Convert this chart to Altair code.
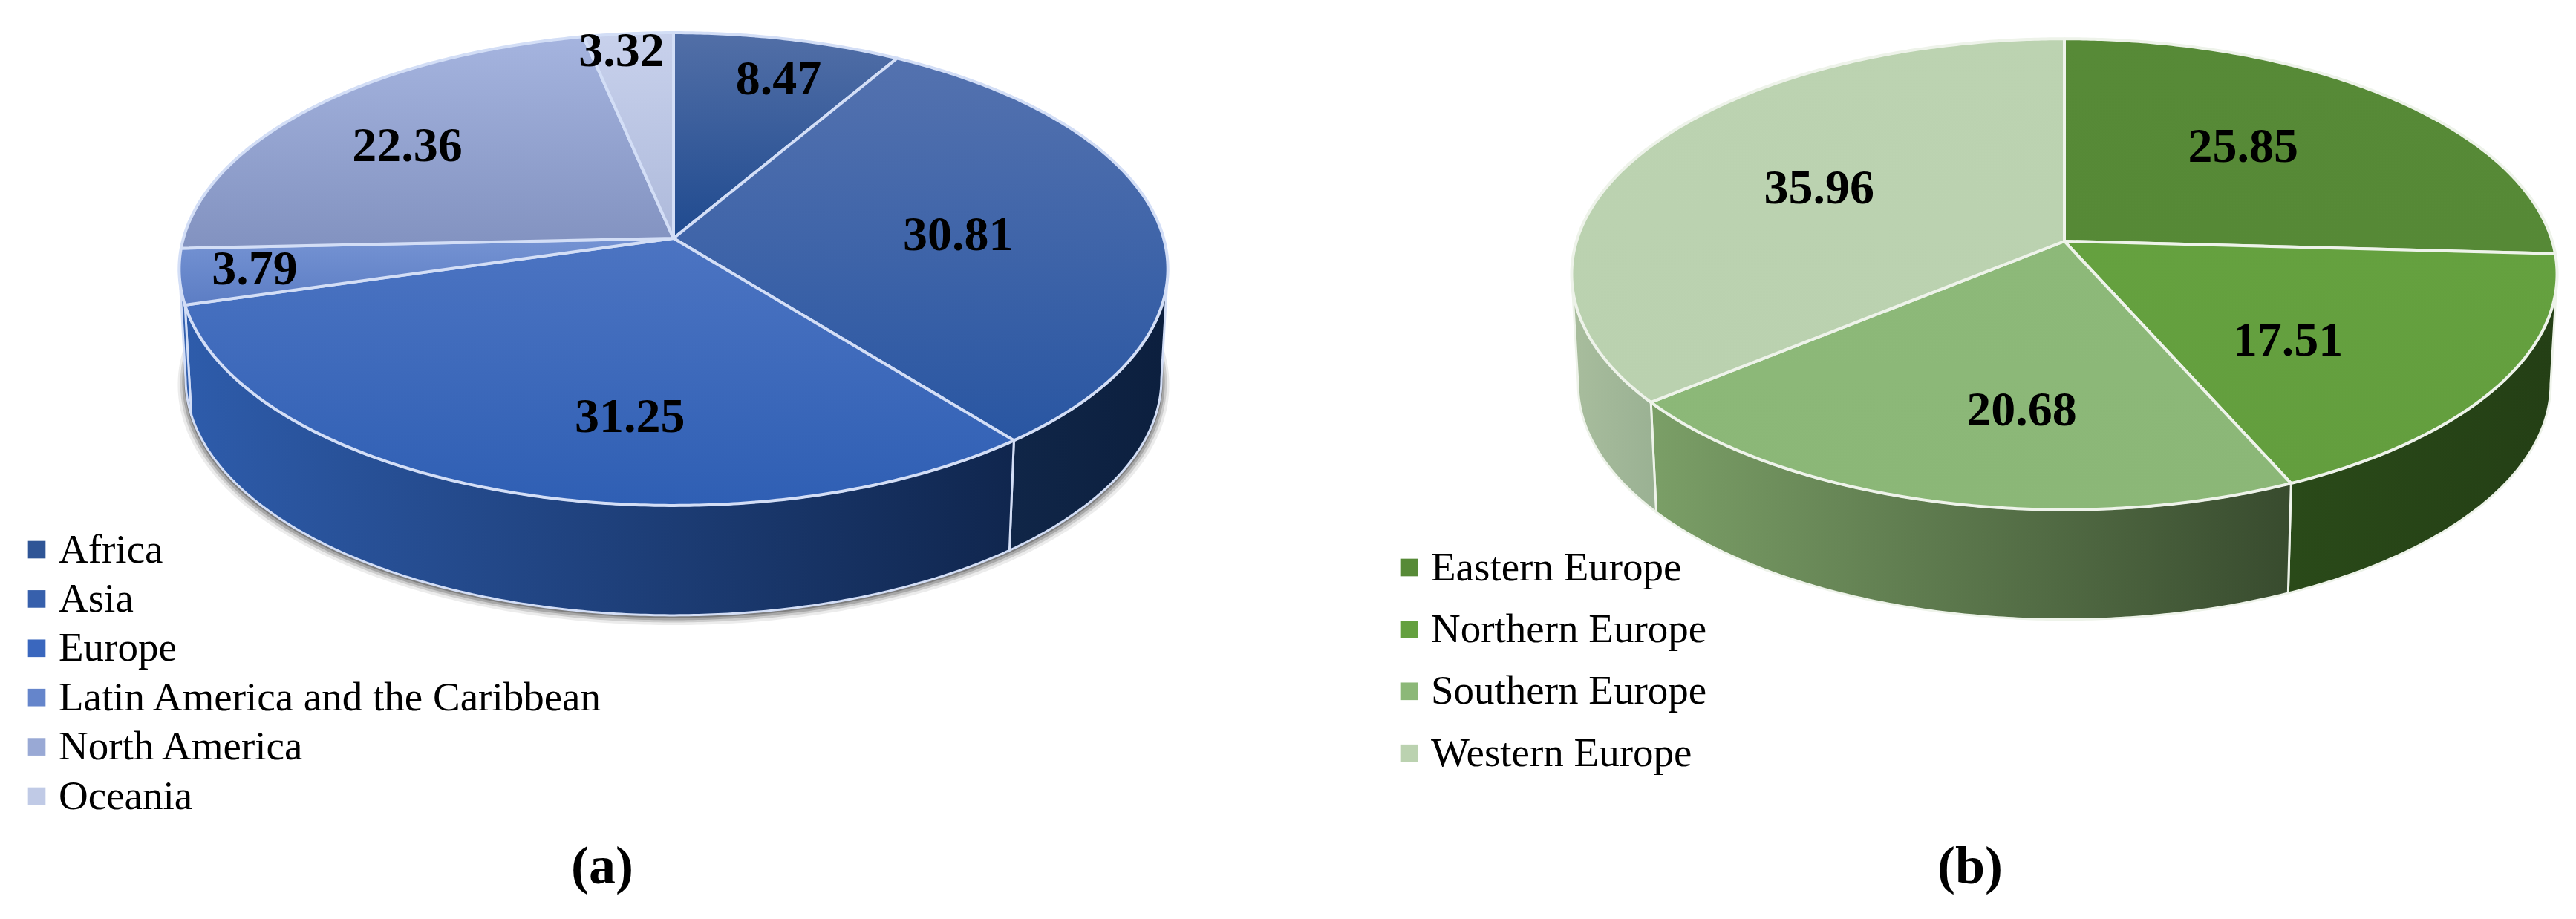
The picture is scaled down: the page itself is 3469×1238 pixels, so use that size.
import math
import altair as alt

# ---- values ----
regions = ["Africa", "Asia", "Europe", "Latin America and the Caribbean", "North America", "Oceania"]
region_values = [8.47, 30.81, 31.25, 3.79, 22.36, 3.32]
europe_parts = ["Eastern Europe", "Northern Europe", "Southern Europe", "Western Europe"]
europe_values = [25.85, 17.51, 20.68, 35.96]

# ---- styling ----
FONT = "Liberation Serif"
region_flat = ["#2F5596", "#3760AC", "#3A67BE", "#6585CB", "#99A9D5", "#C0CAE6"]
region_top = [("#526FA7", "#1F4A8F"), ("#5472AF", "#2956A2"), ("#4C74C2", "#2F5FB4"),
              ("#7593D3", "#5C7DC4"), ("#A5B4DF", "#8292C0"), ("#C8D1EC", "#AEBADB")]
region_wall = [("#0E2344", "#0E2344"), ("#102648", "#0C1F3E"), ("#2E5CAB", "#10264E"),
               ("#3A66B2", "#2E5CAB"), ("#3A66B2", "#3A66B2"), ("#3A66B2", "#3A66B2")]
europe_flat = ["#578A37", "#64A03F", "#8CB878", "#BBD2B0"]
europe_top = [("#578A37", "#568936"), ("#65A13F", "#639E3E"), ("#8DB979", "#8BB777"), ("#BCD3B1", "#BAD1AF")]
europe_wall = [("#2A4A19", "#2A4A19"), ("#2A4A19", "#243F15"), ("#7B9F67", "#384B2E"), ("#A8BD9D", "#9AB193")]

# geometry of each tilted disc
A = dict(cx=907 - 8, cy=321 - 8, R=660, S=313, p=0.1303, depth=148, sx=0.987, sy=1.0, edge="#D3DEF6")
B = dict(cx=2780 - 8 - 1726, cy=325 - 8, R=657, S=311, p=0.14, depth=148, sx=0.987, sy=1.0, edge="#EEF3EA")
region_label_pos = [(0.787, 17.4), (0.582, 88.7), (0.705, 186.6), (0.85, 261.1), (0.709, 306.1), (0.907, 352.5)]
europe_label_pos = [(0.582, 41.9), (0.593, 133.2), (0.67, 186.8), (0.57, 294.4)]
PROJECTION = dict(type="identity", scale=1, translate=[0, 0])


def project(g, r, deg):
    t = math.radians(deg)
    u, v = r * math.sin(t), -r * math.cos(t)
    w = 1 - g["p"] * v
    return g["R"] * u / w, g["S"] * v / w


def lower(g, pt):
    return pt[0] * g["sx"], pt[1] * g["sy"] + g["depth"]


def rim(g, a, b):
    n = max(2, int(abs(b - a) * 2))
    return [project(g, 1, a + (b - a) * i / n) for i in range(n + 1)]


def feature(g, ring, name):
    ring = [[p[0] + g["cx"], p[1] + g["cy"]] for p in ring]
    ring.append(ring[0])
    return {"type": "Feature", "geometry": {"type": "Polygon", "coordinates": [ring]},
            "properties": {"name": name}}


def grad(c1, c2, horizontal):
    return alt.Gradient(gradient="linear", x1=0, y1=0, x2=1 if horizontal else 0, y2=0 if horizontal else 1,
                        stops=[alt.GradientStop(offset=0, color=c1), alt.GradientStop(offset=1, color=c2)])


def panel(g, names, values, flat, top, wall, label_pos, legend_xy, row_pad, caption, caption_xy, shadow):
    total = sum(values)
    edges = [0.0]
    for v in values:
        edges.append(edges[-1] + v / total * 360)
    face_deg = math.degrees(math.acos(-g["p"]))
    layers = []

    if shadow:
        for grow, off, op in [(1.016, 5, 0.10), (1.011, 4, 0.18), (1.007, 3, 0.28), (1.003, 2, 0.4)]:
            ring = [lower(g, pt) for pt in rim(g, 0, 360)]
            ring = [(x * grow, y * grow + off) for x, y in ring]
            layers.append(alt.Chart(alt.InlineData(values=[feature(g, ring, "shadow")]))
                          .mark_geoshape(fill="#444444", opacity=op, strokeWidth=0).project(**PROJECTION))

    # walls
    for i, name in enumerate(names):
        a, b = max(edges[i], face_deg), min(edges[i + 1], 360 - face_deg)
        if b <= a:
            continue
        up = rim(g, a, b)
        ring = up + [lower(g, pt) for pt in reversed(up)]
        layers.append(alt.Chart(alt.InlineData(values=[feature(g, ring, name)]))
                      .mark_geoshape(fill=grad(wall[i][0], wall[i][1], True), stroke=g["edge"], strokeWidth=3,
                                     strokeJoin="round").project(**PROJECTION))

    # flat top faces, they carry the legend
    flat_features = [feature(g, [(0, 0)] + rim(g, edges[i], edges[i + 1]), n) for i, n in enumerate(names)]
    layers.append(alt.Chart(alt.InlineData(values=flat_features)).mark_geoshape(strokeWidth=0).encode(
        color=alt.Color("properties.name:N",
                        scale=alt.Scale(domain=names, range=flat),
                        legend=alt.Legend(title=None, orient="none", legendX=legend_xy[0], legendY=legend_xy[1],
                                          symbolType="square", symbolSize=560, symbolStrokeWidth=0, padding=0,
                                          labelFont=FONT, labelFontSize=55, labelColor="black", labelLimit=1000,
                                          labelOffset=2, rowPadding=row_pad, symbolOpacity=1))
    ).project(**PROJECTION))

    # shaded top faces
    for i, name in enumerate(names):
        ring = [(0, 0)] + rim(g, edges[i], edges[i + 1])
        layers.append(alt.Chart(alt.InlineData(values=[feature(g, ring, name)]))
                      .mark_geoshape(fill=grad(top[i][0], top[i][1], False), stroke=g["edge"], strokeWidth=4,
                                     strokeJoin="round").project(**PROJECTION))

    rows = []
    for v, (r, deg) in zip(values, label_pos):
        x, y = project(g, r, deg)
        rows.append({"lon": x + g["cx"], "lat": y + g["cy"], "label": f"{v:.2f}"})
    layers.append(alt.Chart(alt.Data(values=rows)).mark_text(
        font=FONT, fontSize=66, fontWeight="bold", color="black", baseline="middle", align="center"
    ).encode(longitude="lon:Q", latitude="lat:Q", text="label:N").project(**PROJECTION))

    layers.append(alt.Chart(alt.Data(values=[{"c": caption}])).mark_text(
        font=FONT, fontSize=72, fontWeight="bold", color="black", baseline="middle", align="center"
    ).encode(text="c:N", x=alt.value(caption_xy[0]), y=alt.value(caption_xy[1])))

    return alt.layer(*layers).properties(width=1726, height=1220)


left = panel(A, regions, region_values, region_flat, region_top, region_wall, region_label_pos,
             (14, 705), 10.4, "(a)", (803, 1160), True)
right = panel(B, europe_parts, europe_values, europe_flat, europe_top, europe_wall, europe_label_pos,
              (136, 729), 27.4, "(b)", (919, 1160), False)

chart = (alt.hconcat(left, right, spacing=0)
         .resolve_scale(color="independent")
         .properties(padding=0, background="white")
         .configure_view(stroke=None))

chart.save("out.html", embed_options={"renderer": "svg", "actions": False})
